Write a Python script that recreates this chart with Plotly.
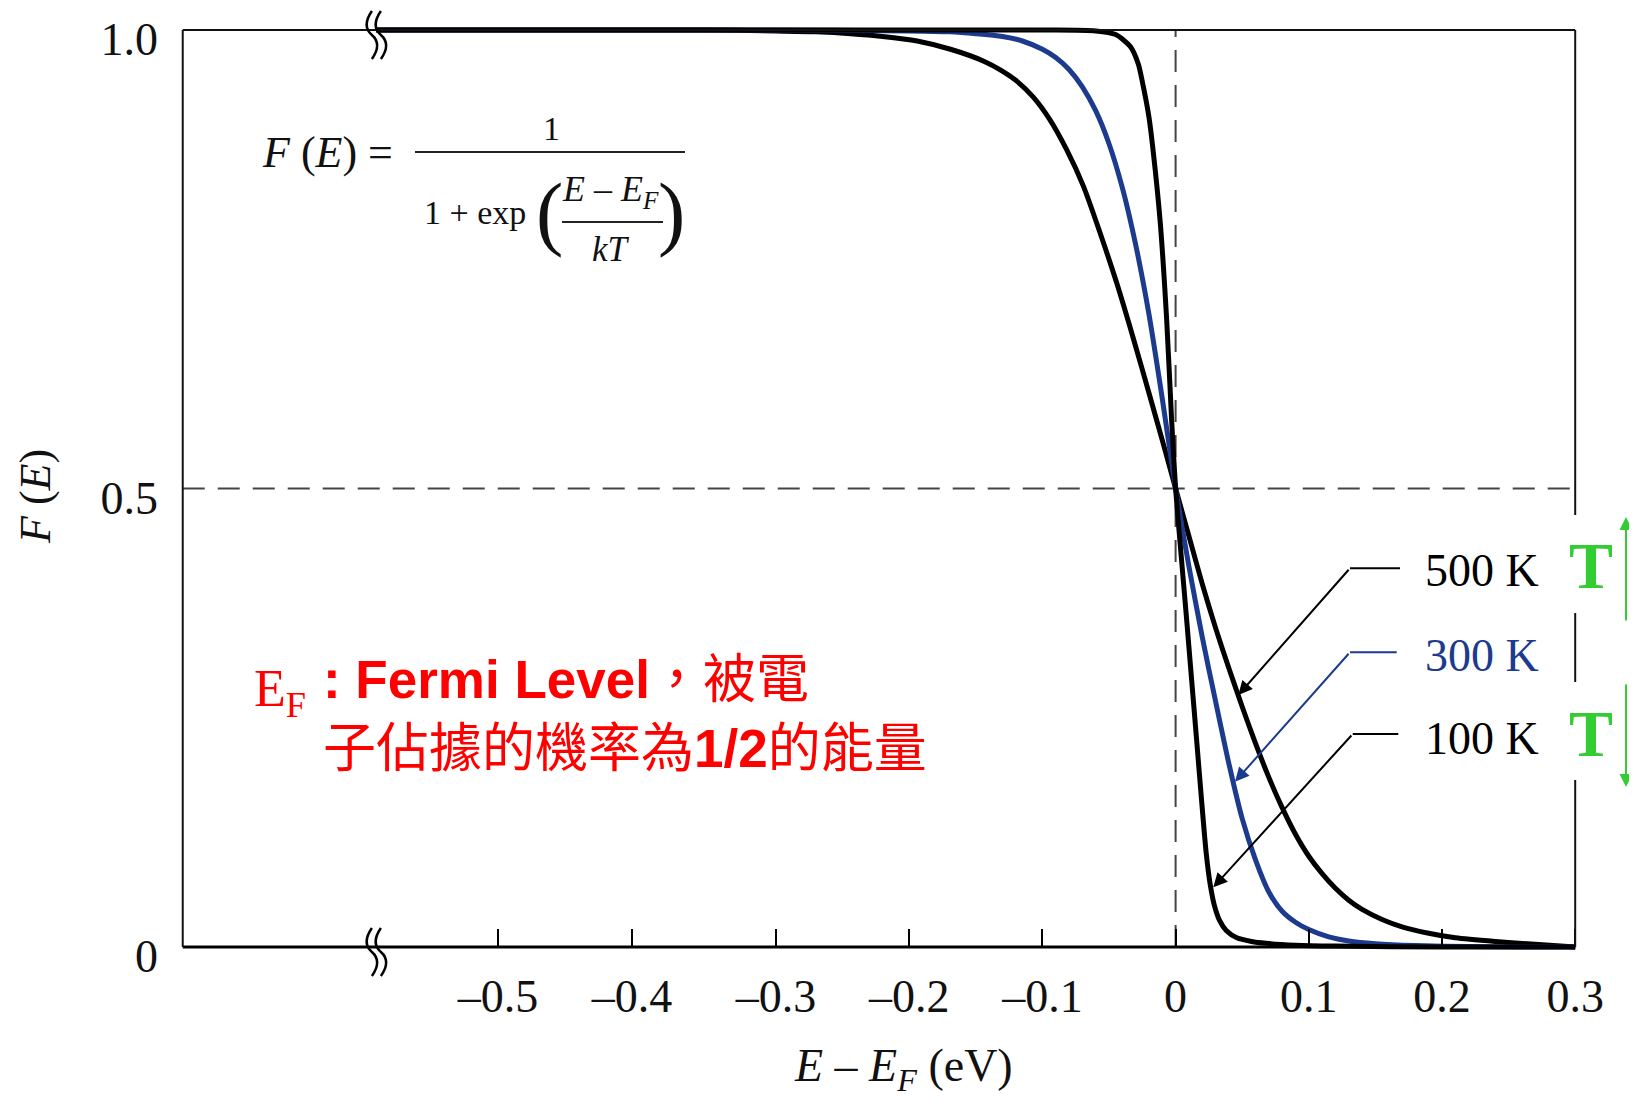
import plotly.graph_objects as go

# ---------------- data ----------------
x_500 = [-0.60, -0.35, -0.30, -0.27, -0.244, -0.22, -0.194, -0.169, -0.144, -0.131,
         -0.119, -0.107, -0.0943, -0.082, -0.0693, -0.057, -0.0442, -0.032, -0.0192, -0.0095,
         0.0, 0.01, 0.02, 0.03, 0.04, 0.05, 0.06, 0.07, 0.08, 0.09,
         0.10, 0.11, 0.12, 0.13, 0.14, 0.155, 0.17, 0.19, 0.21, 0.24,
         0.27, 0.30]
f_500 = [1.0, 1.0, 0.999, 0.998, 0.996, 0.993, 0.988, 0.979, 0.966, 0.956,
         0.944, 0.927, 0.902, 0.870, 0.830, 0.780, 0.724, 0.665, 0.600, 0.550,
         0.5, 0.448, 0.396, 0.348, 0.304, 0.262, 0.222, 0.185, 0.152, 0.123,
         0.099, 0.080, 0.064, 0.051, 0.041, 0.030, 0.022, 0.015, 0.010, 0.006,
         0.003, 0.0]

x_300 = [-0.60, -0.30, -0.20, -0.17, -0.15, -0.13, -0.115, -0.10, -0.09, -0.08,
         -0.07, -0.06, -0.05, -0.04, -0.03, -0.02, -0.01, 0.0, 0.01, 0.02,
         0.03, 0.04, 0.05, 0.06, 0.07, 0.08, 0.09, 0.10, 0.115, 0.13,
         0.15, 0.18, 0.22, 0.26, 0.30]
f_300 = [1.0, 1.0, 0.999, 0.998, 0.996, 0.993, 0.988, 0.979, 0.970, 0.957,
         0.938, 0.912, 0.876, 0.828, 0.766, 0.690, 0.598, 0.5, 0.415, 0.338,
         0.268, 0.200, 0.140, 0.095, 0.060, 0.039, 0.027, 0.019, 0.011, 0.0065,
         0.0035, 0.0015, 0.0005, 0.0, 0.0]

x_100 = [-0.60, -0.30, -0.10, -0.06, -0.045, -0.034, -0.028, -0.0242, -0.020, -0.0167,
         -0.0117, -0.0067, -0.003, 0.0, 0.004, 0.008, 0.012, 0.016, 0.0195, 0.023,
         0.026, 0.029, 0.033, 0.038, 0.046, 0.057, 0.068, 0.09, 0.12, 0.20,
         0.30]
f_100 = [1.0, 1.0, 1.0, 0.999, 0.995, 0.982, 0.963, 0.938, 0.905, 0.866,
         0.793, 0.684, 0.575, 0.5, 0.43, 0.362, 0.292, 0.222, 0.160, 0.102,
         0.068, 0.046, 0.029, 0.018, 0.010, 0.006, 0.004, 0.002, 0.001, 0.0,
         0.0]

# tick marks as placed in the (hand-drawn) original: -0.5 and -0.4 sit slightly left
x_tickvals = [-0.5087, -0.4081, -0.3, -0.2, -0.1, 0.0, 0.1, 0.2, 0.3]
x_ticktext = ["\u20130.5", "\u20130.4", "\u20130.3", "\u20130.2", "\u20130.1", "0", "0.1", "0.2", "0.3"]
y_tickvals = [0, 0.5, 1.0]
y_ticktext = ["0", "0.5", "1.0"]

temps = ["500 K", "300 K", "100 K"]
label_pos = [(0.1857, 0.411), (0.1857, 0.3184), (0.1857, 0.2279)]
leader_start_x = [0.1685, 0.166, 0.1672]
leader_elbow = [(0.1309, 0.413), (0.1309, 0.3214), (0.133, 0.2323)]
arrow_tip = [(0.0471, 0.2748), (0.0446, 0.1803), (0.0283, 0.0651)]

X_LEFT = -0.7454
X_RIGHT = 0.30
X_BREAK = -0.60
right_frame_segments = [(0.0, 0.1821), (0.289, 0.3642), (0.4711, 1.0)]

# ---------------- geometry / styling ----------------
# page body has an 8px margin; the plot area spans page x 164..1589, y 10..978
W, H = 1621, 1094
ML, MT = 156, 2
PW, PH = 1425, 968
MR, MB = W - ML - PW, H - MT - PH
PAGE_L, PAGE_T = 164, 10
SERIF = "Liberation Serif, Times New Roman, serif"
SANS = "Liberation Sans, Arial, Noto Sans CJK TC, sans-serif"
BLACK = "#000000"
BLUE = "#1C3A8E"
RED = "#FF0000"
GREEN = "#33CC33"


def px(X):
    return (X - PAGE_L) / PW


def py(Y):
    return (PAGE_T + PH - Y) / PH


fig = go.Figure()
for xs, fs, col in [(x_500, f_500, BLACK), (x_300, f_300, BLUE), (x_100, f_100, BLACK)]:
    fig.add_trace(go.Scatter(x=xs, y=fs, mode="lines",
                             line=dict(color=col, width=5, shape="spline", smoothing=0.7),
                             showlegend=False, hoverinfo="skip"))

shapes = []
shapes.append(dict(type="line", x0=X_LEFT, x1=X_LEFT, y0=0, y1=1, xref="x", yref="y",
                   line=dict(color="#111", width=2)))
shapes.append(dict(type="line", x0=X_LEFT, x1=X_RIGHT, y0=1, y1=1, xref="x", yref="y",
                   line=dict(color="#111", width=2)))
shapes.append(dict(type="line", x0=X_LEFT, x1=X_RIGHT, y0=0, y1=0, xref="x", yref="y",
                   line=dict(color="#000", width=3)))
for a, b in right_frame_segments:
    shapes.append(dict(type="line", x0=X_RIGHT, x1=X_RIGHT, y0=a, y1=b, xref="x", yref="y",
                       line=dict(color="#111", width=2)))
shapes.append(dict(type="line", x0=0, x1=0, y0=0, y1=1, xref="x", yref="y", layer="below",
                   line=dict(color="#444", width=2, dash="22px,13px")))
shapes.append(dict(type="line", x0=X_LEFT, x1=X_RIGHT, y0=0.5, y1=0.5, xref="x", yref="y",
                   layer="below", line=dict(color="#444", width=2, dash="22px,13px")))


def break_path(cy):
    parts = []
    for dx in (-4.5, 4.5):
        parts.append(f"M {dx},{cy + 24} C {dx - 7},{cy + 14} {dx - 7},{cy + 6} {dx},{cy} "
                     f"C {dx + 7},{cy - 6} {dx + 7},{cy - 14} {dx},{cy - 24}")
    return " ".join(parts)


for yv in (0, 1):
    shapes.append(dict(type="path", xref="x", yref="y", xsizemode="pixel", ysizemode="pixel",
                       xanchor=X_BREAK, yanchor=yv, path=break_path(-5),
                       line=dict(color="#000", width=2.5)))
for i, t in enumerate(temps):
    col = BLUE if t == "300 K" else BLACK
    shapes.append(dict(type="line", xref="x", yref="y", x0=leader_start_x[i], x1=leader_elbow[i][0],
                       y0=leader_elbow[i][1], y1=leader_elbow[i][1], line=dict(color=col, width=2)))
shapes.append(dict(type="line", xref="paper", yref="paper", x0=px(415), x1=px(685), y0=py(152), y1=py(152),
                   line=dict(color="#222", width=2)))
shapes.append(dict(type="line", xref="paper", yref="paper", x0=px(562), x1=px(663), y0=py(222), y1=py(222),
                   line=dict(color="#222", width=2)))

ann = []
for i, t in enumerate(temps):
    col = BLUE if t == "300 K" else BLACK
    ann.append(dict(x=label_pos[i][0], y=label_pos[i][1], xref="x", yref="y", text=t, showarrow=False,
                    xanchor="left", yanchor="middle", font=dict(family=SERIF, size=46, color=col)))
    ann.append(dict(x=arrow_tip[i][0], y=arrow_tip[i][1], xref="x", yref="y",
                    ax=leader_elbow[i][0], ay=leader_elbow[i][1], axref="x", ayref="y",
                    text="", showarrow=True, arrowhead=2, arrowsize=1.4, arrowwidth=2, arrowcolor=col))


def tx(X, Y, text, size, color="#111", family=SERIF, **kw):
    d = dict(x=px(X), y=py(Y), xref="paper", yref="paper", text=text, showarrow=False,
             xanchor="center", yanchor="middle", font=dict(family=family, size=size, color=color))
    d.update(kw)
    return d


# formula
ann.append(tx(327, 153, "<i>F</i> (<i>E</i>) =", 44))
ann.append(tx(551, 129, "1", 34))
ann.append(tx(475, 212, "1 + exp", 34))
ann.append(tx(549, 212, "(", 82))
ann.append(tx(671, 212, ")", 82))
ann.append(tx(610, 191, "<i>E</i> \u2013 <i>E</i><sub><i>F</i></sub>", 36))
ann.append(tx(611, 250, "<i>kT</i>", 35))

# axis titles
ann.append(tx(904, 1069, "<i>E</i> \u2013 <i>E</i><sub><i>F</i></sub> (eV)", 46))
ann.append(tx(35, 497, "<i>F</i> (<i>E</i>)", 44, textangle=-90))

# red note
ann.append(tx(280, 692, "E<sub>F</sub>", 52, color=RED))
ann.append(dict(x=px(321), y=py(714), xref="paper", yref="paper", showarrow=False,
                xanchor="left", yanchor="middle", align="left",
                text="<b>: Fermi Level</b>\uff0c被電<br>子佔據的機率為<b>1/2</b>的能量",
                font=dict(family=SANS, size=53, color=RED)))

# green T markers and arrows
ann.append(tx(1591, 565, "<b>T</b>", 66, color=GREEN))
ann.append(tx(1591, 733, "<b>T</b>", 66, color=GREEN))
ann.append(dict(x=px(1626), y=py(517), xref="paper", yref="paper", ax=0, ay=105, text="",
                showarrow=True, arrowhead=2, arrowsize=1.3, arrowwidth=2, arrowcolor=GREEN))
ann.append(dict(x=px(1626), y=py(787), xref="paper", yref="paper", ax=0, ay=-104, text="",
                showarrow=True, arrowhead=2, arrowsize=1.3, arrowwidth=2, arrowcolor=GREEN))

fig.update_layout(
    width=W, height=H,
    margin=dict(l=ML, r=MR, t=MT, b=MB, autoexpand=False),
    paper_bgcolor="white", plot_bgcolor="white",
    font=dict(family=SERIF, size=46, color="#111"),
    shapes=shapes, annotations=ann, showlegend=False,
    xaxis=dict(range=[(PAGE_L - 1175.6) / 1332, (PAGE_L + PW - 1175.6) / 1332],
               tickvals=x_tickvals, ticktext=x_ticktext,
               ticks="inside", ticklen=18, tickwidth=2, tickcolor="#000",
               showgrid=False, zeroline=False, showline=False,
               anchor="free", position=py(947), ticklabelstandoff=18,
               ticklabeloverflow="allow",
               tickfont=dict(family=SERIF, size=46, color="#111")),
    yaxis=dict(range=[(947 - (PAGE_T + PH)) / 917, (947 - PAGE_T) / 917],
               tickvals=y_tickvals, ticktext=y_ticktext,
               ticks="", showgrid=False, zeroline=False, showline=False,
               anchor="free", position=px(183), ticklabelstandoff=25,
               ticklabelshift=9, ticklabeloverflow="allow",
               tickfont=dict(family=SERIF, size=46, color="#111")),
)

fig.write_html("out.html")
